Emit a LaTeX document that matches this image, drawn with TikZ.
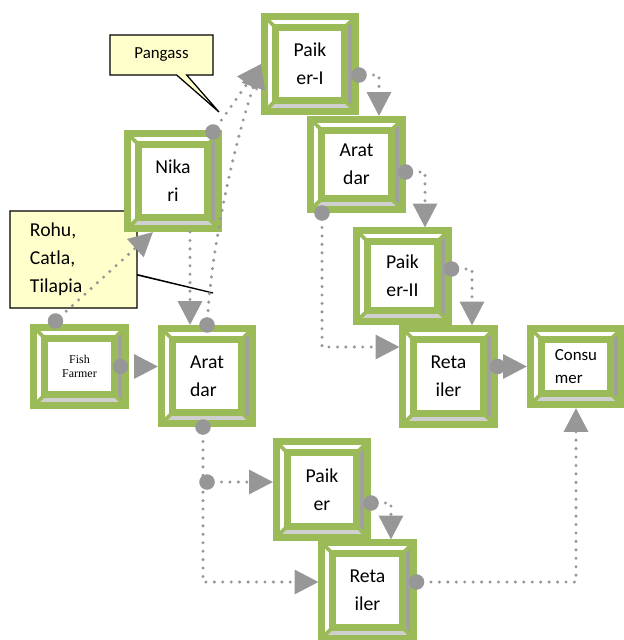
\documentclass[tikz,border=0pt]{standalone}
\usepackage{fontspec}
\setmainfont{Carlito}
\newfontfamily\timesfont{Liberation Serif}
\usetikzlibrary{arrows.meta}
\usetikzlibrary{calc}
\usetikzlibrary{shapes.callouts}
\definecolor{boxgreen}{HTML}{9BBB59}
\definecolor{linkgray}{HTML}{979797}
\definecolor{facedark}{HTML}{A0A0A0}
\definecolor{facelight}{HTML}{CFCFCF}
\definecolor{noteyellow}{HTML}{FFFFCC}
\newcommand{\bev}{0.275cm}
\tikzset{
 bevel/.style={draw=boxgreen, line width=0.175cm, fill=white, align=center,
  minimum width=2.275cm, minimum height=2.375cm, inner sep=0pt,
  font=\fontsize{14}{20}\selectfont,
  path picture={
   \path (path picture bounding box.south west) coordinate (bl)
         (path picture bounding box.north east) coordinate (tr)
         (path picture bounding box.south east) coordinate (br)
         (path picture bounding box.north west) coordinate (tl)
         ($(bl)+(\bev,\bev)$) coordinate (ibl)
         ($(tr)+(-\bev,-\bev)$) coordinate (itr)
         ($(br)+(-\bev,\bev)$) coordinate (ibr)
         ($(tl)+(\bev,-\bev)$) coordinate (itl);
   \fill[facedark] (tr) -- (br) -- (ibr) -- (itr) -- cycle;
   \fill[facelight] (bl) -- (br) -- (ibr) -- (ibl) -- cycle;
   \draw[boxgreen, line width=0.09cm] (bl) -- (ibl) (br) -- (ibr) (tr) -- (itr) (tl) -- (itl);
   \draw[boxgreen, line width=0.175cm] (ibl) rectangle (itr);
  }},
 note/.style={rectangle callout, draw=black, fill=noteyellow, line width=0.9pt, inner sep=0pt},
 linkbase/.style={draw=linkgray, line width=2.4pt, line cap=round, dash pattern=on 0pt off 6pt},
 link/.style={linkbase, {Circle[length=11pt]}-{Triangle[length=17pt,width=17pt]}, shorten <=-5.5pt},
 linkend/.style={linkbase, -{Triangle[length=17pt,width=17pt]}}
}
\begin{document}
\begin{tikzpicture}[x=0.025cm, y=-0.025cm]
\useasboundingbox (0,0) rectangle (624,640);

% callouts
\coordinate (pangtip) at (219,112);
\coordinate (rohutip) at (213,293);
\node[note, minimum width=2.575cm, minimum height=1cm, font=\fontsize{12}{15}\selectfont,
  callout absolute pointer={(pangtip)}] (pang) at (161.5,55) {Pangass};
\node[note, minimum width=3.175cm, minimum height=2.425cm, text width=2.175cm, align=left,
  font=\fontsize{14}{20}\selectfont, callout pointer width=0.3,
  callout absolute pointer={(rohutip)}] (rohu) at (73.5,259.5)
  {Rohu,\\Catla,\\Tilapia};

% boxes
\node[bevel] (pk1) at (310,64) {Paik\\er-I};
\node[bevel, minimum height=2.25cm] (ard2) at (356.5,164.5) {Arat\\dar};
\node[bevel, minimum height=2.25cm] (pk2) at (402.5,276) {Paik\\er-II};
\node[bevel] (nik) at (173,181) {Nika\\ri};
\node[bevel, minimum height=1.95cm, font=\timesfont\fontsize{8.5}{10}\selectfont] (ff) at (79.5,366.5) {Fish\\Farmer};
\node[bevel, align=left] (ard1) at (207,376) {Arat\\dar};
\node[bevel] (ret1) at (448.5,376.5) {Reta\\iler};
\node[bevel, minimum height=1.9cm, align=left, font=\fontsize{12}{16}\selectfont] (con) at (576,366.5) {Consu\\mer};
\node[bevel] (pk3) at (322,489.5) {Paik\\er};
\node[bevel] (ret2) at (367.5,590.5) {Reta\\iler};

% links
\draw[link] ($(ff.north)+(-24,-3)$) -- ($(nik.south)+(-20,0)$);
\draw[link] ($(ff.east)+(-8,0)$) -- (ff.east -| ard1.west);
\draw[linkend] ($(nik.south)+(17,0)$) -- ($(ard1.north)+(-17,0)$);
\draw[link] ($(nik.north)+(40,2)$) -- (pk1.west);
\draw[link] (ard1.north) .. controls +(6,-90) and +(-25,75) .. (pk1.west);
\draw[link] ($(pk1.east)+(0,11)$) -| ($(ard2.north)+(22.5,0)$);
\draw[link] ($(ard2.east)+(0,7.5)$) -| ($(pk2.north)+(22.5,0)$);
\draw[link] ($(ard2.south)+(-34.5,0)$) |- ($(ret1.west)+(0,-29.5)$);
\draw[link] ($(pk2.east)+(0,-7)$) -| ($(ret1.north)+(23.5,0)$);
\draw[link] (ret1.east |- con.west) -- (con.west);
\draw[link] ($(ard1.south)+(-4,0)$) |- ($(ret2.west)+(0,-8.5)$);
\coordinate (split) at ($(ard1.south)+(0,55)$);
\draw[link] (split) -- (split -| pk3.west);
\draw[link] ($(pk3.east)+(0,13.5)$) -| ($(ret2.north)+(23.5,0)$);
\draw[link] ($(ret2.east)+(0,-8.5)$) -| (con.south);
\end{tikzpicture}
\end{document}
